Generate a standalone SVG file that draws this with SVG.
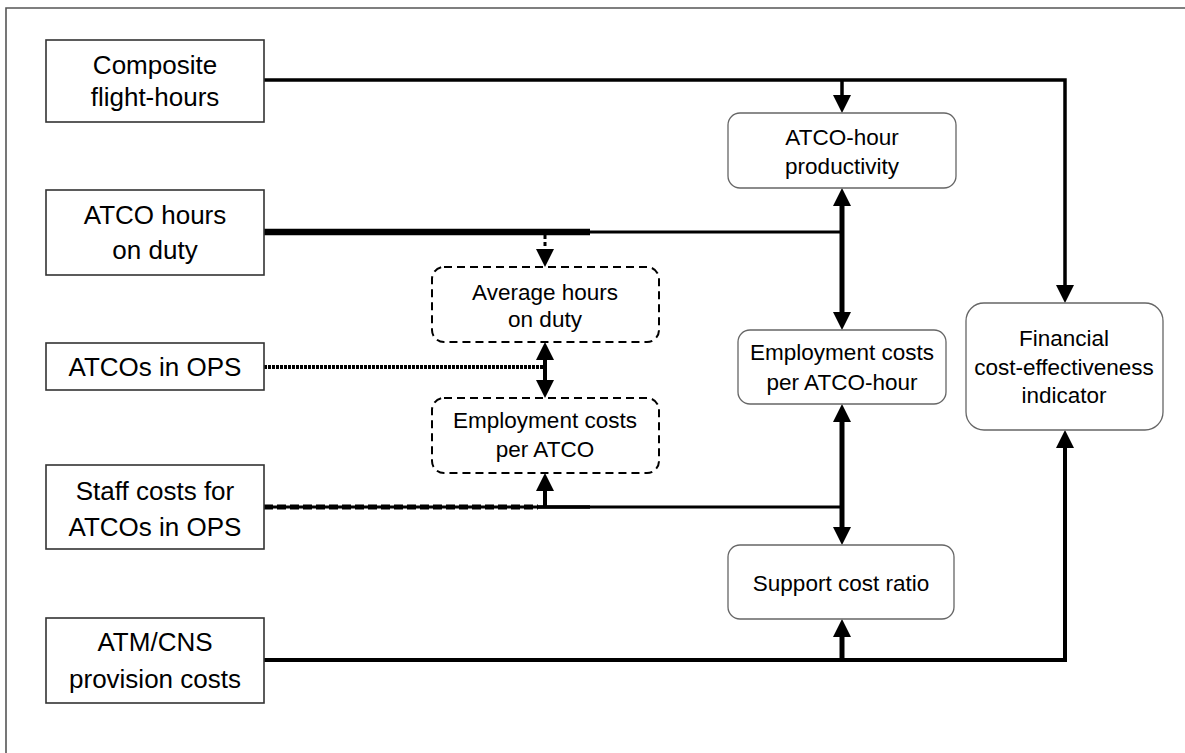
<svg xmlns="http://www.w3.org/2000/svg" width="1185" height="753" viewBox="0 0 1185 753">
  <style>
    text { font-family: "Liberation Sans", Arial, sans-serif; fill: #000; text-anchor: middle; }
    .big { font-size: 26px; }
    .small { font-size: 22.5px; }
    .input { fill: #fff; stroke: #333; stroke-width: 1.6; }
    .output { fill: #fff; stroke: #666; stroke-width: 1.3; }
    .derived { fill: #fff; stroke: #000; stroke-width: 2; stroke-dasharray: 8 5; }
    .wire { fill: none; stroke: #000; stroke-linejoin: miter; }
  </style>
  <defs>
    <marker id="arr" viewBox="0 0 18 18" refX="8" refY="9" markerWidth="18" markerHeight="18" markerUnits="userSpaceOnUse" orient="auto-start-reverse">
      <path d="M0,0 L18,9 L0,18 z" fill="#000"/>
    </marker>
  </defs>

  <rect width="1185" height="753" fill="#fff"/>
  <!-- page frame -->
  <path d="M6,753 V8 H1185" fill="none" stroke="#555" stroke-width="1.6"/>

  <!-- connectors -->
  <g id="connectors">
    <path class="wire" d="M264,80 H1065 V293" stroke-width="3.5" marker-end="url(#arr)"/>
    <path class="wire" d="M842,80 V103" stroke-width="3.5" marker-end="url(#arr)"/>

    <path class="wire" d="M264,232 H590" stroke-width="6.5"/>
    <path class="wire" d="M590,232 H842" stroke-width="3"/>
    <path class="wire" d="M842,198 V320" stroke-width="5" marker-start="url(#arr)" marker-end="url(#arr)"/>
    <path class="wire" d="M545,235 V257" stroke-width="3" stroke-dasharray="4 3" marker-end="url(#arr)"/>

    <path class="wire" d="M264,367 H545" stroke-width="4" stroke-dasharray="3 1"/>
    <path class="wire" d="M545,352 V388" stroke-width="4" marker-start="url(#arr)" marker-end="url(#arr)"/>

    <path class="wire" d="M264,507 H842" stroke-width="3"/>
    <path class="wire" d="M538,507 H590" stroke-width="3.6"/>
    <path class="wire" d="M264,507 H538" stroke-width="5" stroke-dasharray="9 4"/>
    <path class="wire" d="M545,507 V483" stroke-width="4" marker-end="url(#arr)"/>
    <path class="wire" d="M842,414 V535" stroke-width="5" marker-start="url(#arr)" marker-end="url(#arr)"/>

    <path class="wire" d="M264,660 H1065 V440" stroke-width="4" marker-end="url(#arr)"/>
    <path class="wire" d="M842,660 V629" stroke-width="5" marker-end="url(#arr)"/>
  </g>

  <!-- source data -->
  <g id="composite-flight-hours">
    <rect class="input" x="46" y="40" width="218" height="82"/>
    <text class="big" x="155" y="74">Composite</text>
    <text class="big" x="155" y="106">flight-hours</text>
  </g>
  <g id="atco-hours-on-duty">
    <rect class="input" x="46" y="190" width="218" height="85"/>
    <text class="big" x="155" y="224">ATCO hours</text>
    <text class="big" x="155" y="259">on duty</text>
  </g>
  <g id="atcos-in-ops">
    <rect class="input" x="46" y="343" width="218" height="47"/>
    <text class="big" x="155" y="376">ATCOs in OPS</text>
  </g>
  <g id="staff-costs">
    <rect class="input" x="46" y="465" width="218" height="84"/>
    <text class="big" x="155" y="500">Staff costs for</text>
    <text class="big" x="155" y="536">ATCOs in OPS</text>
  </g>
  <g id="atm-cns-costs">
    <rect class="input" x="46" y="618" width="218" height="85"/>
    <text class="big" x="155" y="651">ATM/CNS</text>
    <text class="big" x="155" y="688">provision costs</text>
  </g>

  <!-- intermediate ratios -->
  <g id="average-hours">
    <rect class="derived" x="432" y="267" width="227" height="75" rx="12"/>
    <text class="small" x="545" y="300">Average hours</text>
    <text class="small" x="545" y="327">on duty</text>
  </g>
  <g id="employment-costs-per-atco">
    <rect class="derived" x="432" y="398" width="227" height="75" rx="12"/>
    <text class="small" x="545" y="428">Employment costs</text>
    <text class="small" x="545" y="457">per ATCO</text>
  </g>

  <!-- indicators -->
  <g id="atco-hour-productivity">
    <rect class="output" x="728" y="113" width="228" height="75" rx="12"/>
    <text class="small" x="842" y="145">ATCO-hour</text>
    <text class="small" x="842" y="174">productivity</text>
  </g>
  <g id="employment-costs-per-atco-hour">
    <rect class="output" x="738" y="330" width="208" height="74" rx="12"/>
    <text class="small" x="842" y="360">Employment costs</text>
    <text class="small" x="842" y="390">per ATCO-hour</text>
  </g>
  <g id="support-cost-ratio">
    <rect class="output" x="728" y="545" width="226" height="74" rx="12"/>
    <text class="small" x="841" y="591">Support cost ratio</text>
  </g>
  <g id="financial-indicator">
    <rect class="output" x="966" y="303" width="197" height="127" rx="18"/>
    <text class="small" x="1064" y="346">Financial</text>
    <text class="small" x="1064" y="375">cost-effectiveness</text>
    <text class="small" x="1064" y="403">indicator</text>
  </g>
</svg>
